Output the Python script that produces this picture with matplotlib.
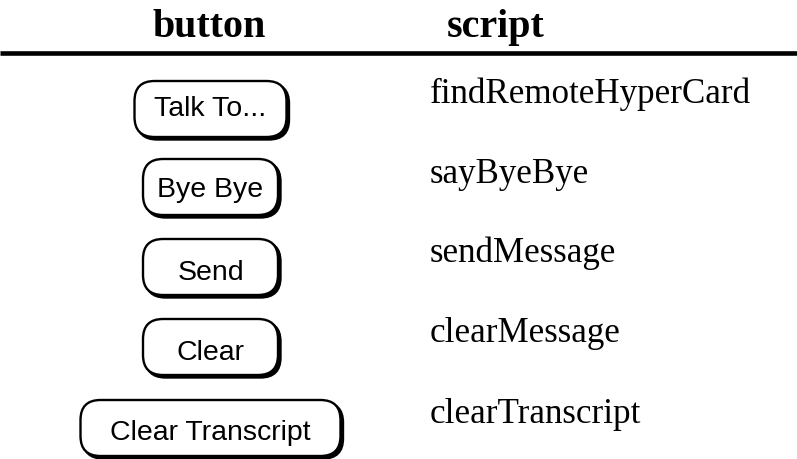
import matplotlib.pyplot as plt
from matplotlib.patches import FancyBboxPatch

# table content
buttons = ['Talk To...', 'Bye Bye', 'Send', 'Clear', 'Clear Transcript']
scripts = ['findRemoteHyperCard', 'sayByeBye', 'sendMessage',
           'clearMessage', 'clearTranscript']
headers = ['button', 'script']

# layout (pixels, y down)
btn_cx = 210.5
btn_w = [152, 135, 135, 135, 260]
btn_h = 56
btn_cy = [109, 187, 267, 347, 428]
btn_base = [116, 197, 280, 360, 440]
script_x = 430
script_base = [103, 183, 262, 342, 423]

fig = plt.figure(figsize=(7.97, 4.59), dpi=100)
ax = fig.add_axes([0, 0, 1, 1])
ax.set_xlim(0, 797)
ax.set_ylim(459, 0)
ax.axis('off')

# header
ax.text(209, 37, headers[0], family='Liberation Serif', weight='bold',
        fontsize=28.8, ha='center', va='baseline')
ax.text(496, 37, headers[1], family='Liberation Serif', weight='bold',
        fontsize=28.8, ha='center', va='baseline')
ax.plot([0, 797], [52.5, 52.5], color='black', lw=3.3, solid_capstyle='butt')

for i, lab in enumerate(buttons):
    w, h = btn_w[i], btn_h
    x0 = btn_cx - w / 2
    y0 = btn_cy[i] - h / 2
    # shadow
    sh = FancyBboxPatch((x0 + 2.5, y0 + 2.5), w, h,
                        boxstyle='round,pad=0,rounding_size=20',
                        fc='black', ec='black', lw=1.7)
    ax.add_patch(sh)
    box = FancyBboxPatch((x0, y0), w, h,
                         boxstyle='round,pad=0,rounding_size=20',
                         fc='white', ec='black', lw=1.7)
    ax.add_patch(box)
    ax.text(btn_cx, btn_base[i], lab, family='Liberation Sans',
            fontsize=20.5, ha='center', va='baseline')

for i, s in enumerate(scripts):
    ax.text(script_x, script_base[i], s, family='Liberation Serif',
            fontsize=25.2, ha='left', va='baseline')

fig.savefig('out.png', dpi=100)
